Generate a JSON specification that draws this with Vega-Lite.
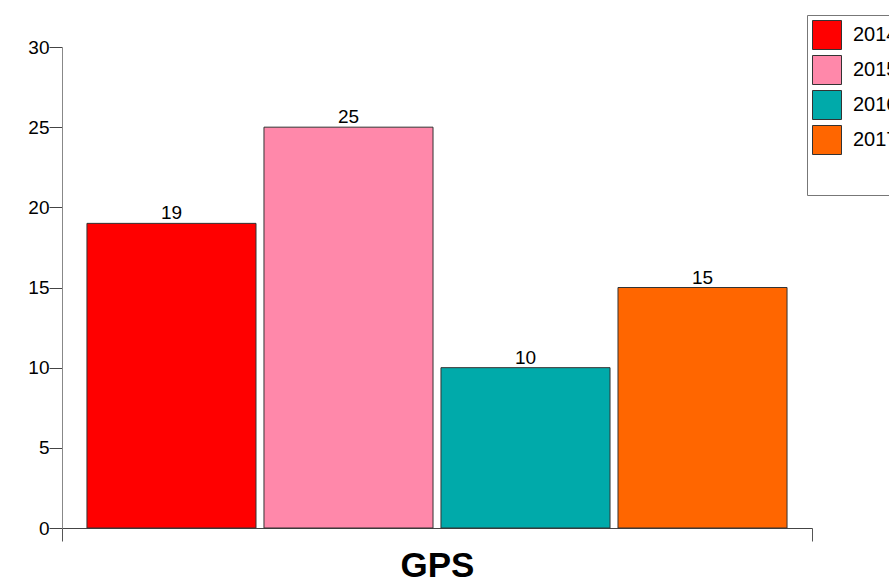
{
  "$schema": "https://vega.github.io/schema/vega-lite/v6.json",
  "width": 750,
  "height": 481,
  "autosize": {"type": "none"},
  "padding": {"left": 62, "top": 47, "right": 77, "bottom": 56},
  "config": {
    "view": {"stroke": null},
    "font": "Liberation Sans",
    "axis": {"grid": false}
  },
  "data": {
    "values": [
      {"category": "GPS", "year": "2014", "value": 19},
      {"category": "GPS", "year": "2015", "value": 25},
      {"category": "GPS", "year": "2016", "value": 10},
      {"category": "GPS", "year": "2017", "value": 15}
    ]
  },
  "encoding": {
    "x": {
      "field": "category",
      "type": "nominal",
      "scale": {"paddingInner": 0, "paddingOuter": 0},
      "axis": {
        "title": null,
        "labelAngle": 0,
        "labelFontSize": 35,
        "labelFontWeight": "bold",
        "labelColor": "#000000",
        "labelPadding": 7,
        "tickSize": 13,
        "tickBand": "extent",
        "tickColor": "#555555",
        "domainColor": "#444444"
      }
    },
    "xOffset": {
      "field": "year",
      "type": "nominal",
      "scale": {"paddingInner": 0.045, "paddingOuter": 0.141}
    },
    "y": {
      "field": "value",
      "type": "quantitative",
      "scale": {"domain": [0, 30]},
      "axis": {
        "title": null,
        "values": [0, 5, 10, 15, 20, 25, 30],
        "labelFontSize": 19,
        "labelColor": "#000000",
        "labelPadding": 0,
        "tickSize": 13,
        "tickColor": "#444444",
        "domainColor": "#888888"
      }
    }
  },
  "layer": [
    {
      "mark": {"type": "bar", "stroke": "#333333", "strokeWidth": 1},
      "encoding": {
        "color": {
          "field": "year",
          "type": "nominal",
          "scale": {
            "domain": ["2014", "2015", "2016", "2017"],
            "range": ["#FF0000", "#FF88AA", "#00AAAA", "#FF6600"]
          },
          "legend": {
            "orient": "none",
            "legendX": 745,
            "legendY": -32,
            "title": " ",
            "titleOrient": "bottom",
            "titleFontSize": 17,
            "titlePadding": 17,
            "padding": 5,
            "strokeColor": "#777777",
            "fillColor": "#ffffff",
            "symbolType": "square",
            "symbolSize": 841,
            "symbolStrokeColor": "#333333",
            "symbolStrokeWidth": 1,
            "symbolOpacity": 1,
            "labelFontSize": 20,
            "labelColor": "#000000",
            "labelOffset": 11,
            "rowPadding": 1,
            "labelLimit": 200
          }
        }
      }
    },
    {
      "mark": {"type": "text", "baseline": "alphabetic", "dy": -4, "fontSize": 19, "color": "#000000"},
      "encoding": {
        "text": {"field": "value", "type": "quantitative"}
      }
    }
  ]
}
